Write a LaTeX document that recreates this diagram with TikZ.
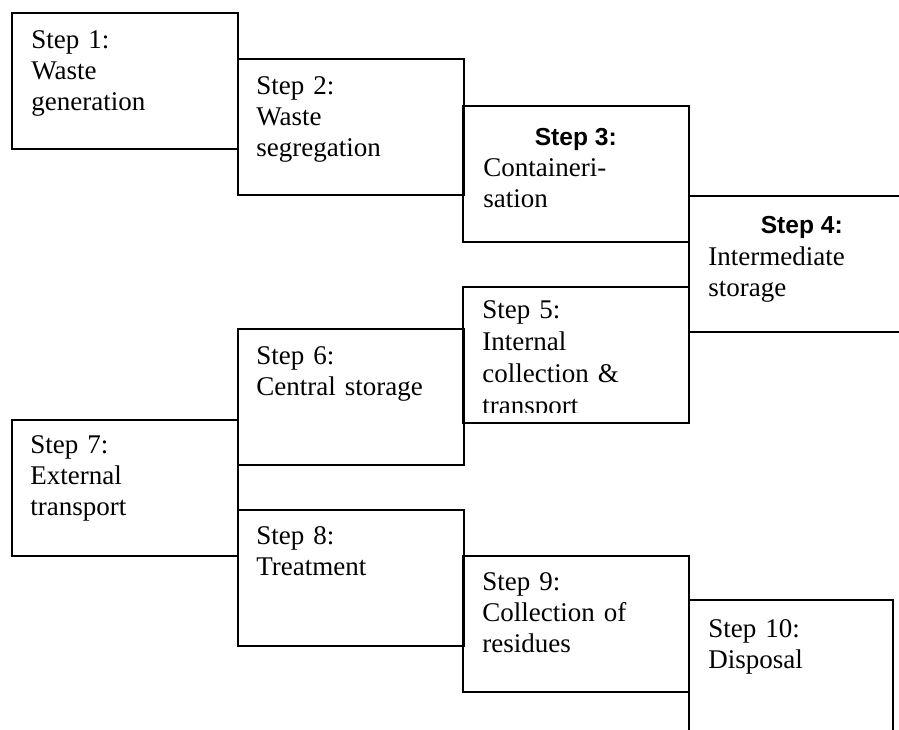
\documentclass[tikz,border=0pt]{standalone}
\usepackage{fontspec}
\setmainfont{Liberation Serif}
\newfontfamily\headsans{Liberation Sans}
\begin{document}
\begin{tikzpicture}[x=0.5pt,y=-0.5pt,
  stepbox/.style={draw, line width=0.75pt, inner sep=0pt, anchor=north west,
    minimum width=113pt, minimum height=68pt},
  steptext/.style={anchor=base west, inner sep=0pt, text width=110pt, align=left,
    font=\fontsize{13.5}{15.5}\selectfont},
  stephead/.style={anchor=base, inner sep=0pt,
    font=\headsans\bfseries\fontsize{12.3}{14}\selectfont}]
\useasboundingbox (0,0) rectangle (899,729);
\clip (0,0) rectangle (899,729);

% staircase of step boxes
\node[stepbox] (s1) at (11,12) {};
\node[stepbox] (s2) at (237,58) {};
\node[stepbox] (s3) at (462,105) {};
\node[stepbox] (s4) at (688,195) {};
\node[stepbox] (s5) at (462,286) {};
\node[stepbox] (s6) at (237,328) {};
\node[stepbox] (s7) at (11,419) {};
\node[stepbox] (s8) at (237,509) {};
\node[stepbox] (s9) at (462,555) {};
\node[stepbox, minimum width=102pt, minimum height=80pt] (s10) at (688,599) {};

% labels
\node[steptext] (t1) at ([shift={(20,36)}]s1.north west) {Step 1:\\Waste\\generation};
\node[steptext] (t2) at ([shift={(19,36)}]s2.north west) {Step 2:\\Waste\\segregation};
\node[stephead] (h3) at ([yshift=-20pt]s3.north) {Step 3:};
\node[steptext] (t3) at ([shift={(21,71)}]s3.north west) {Containeri-\\sation};
\node[stephead] (h4) at ([yshift=-19pt]s4.north) {Step 4:};
\node[steptext] (t4) at ([shift={(20,70)}]s4.north west) {Intermediate\\storage};
% the last line of step 5 runs past the box and is cut off
\begin{scope}
  \clip (s5.north west) rectangle ([yshift=5.5pt]s5.south east);
  \node[steptext, font=\fontsize{13.5}{16}\selectfont] (t5)
    at ([shift={(20,32)}]s5.north west) {Step 5:\\Internal\\collection \&\\transport};
\end{scope}
\node[steptext] (t6) at ([shift={(19,36)}]s6.north west) {Step 6:\\Central storage};
\node[steptext] (t7) at ([shift={(19,34)}]s7.north west) {Step 7:\\External\\transport};
\node[steptext] (t8) at ([shift={(19,35)}]s8.north west) {Step 8:\\Treatment};
\node[steptext] (t9) at ([shift={(20,35)}]s9.north west) {Step 9:\\Collection of\\residues};
\node[steptext] (t10) at ([shift={(20,38)}]s10.north west) {Step 10:\\Disposal};
\end{tikzpicture}
\end{document}
